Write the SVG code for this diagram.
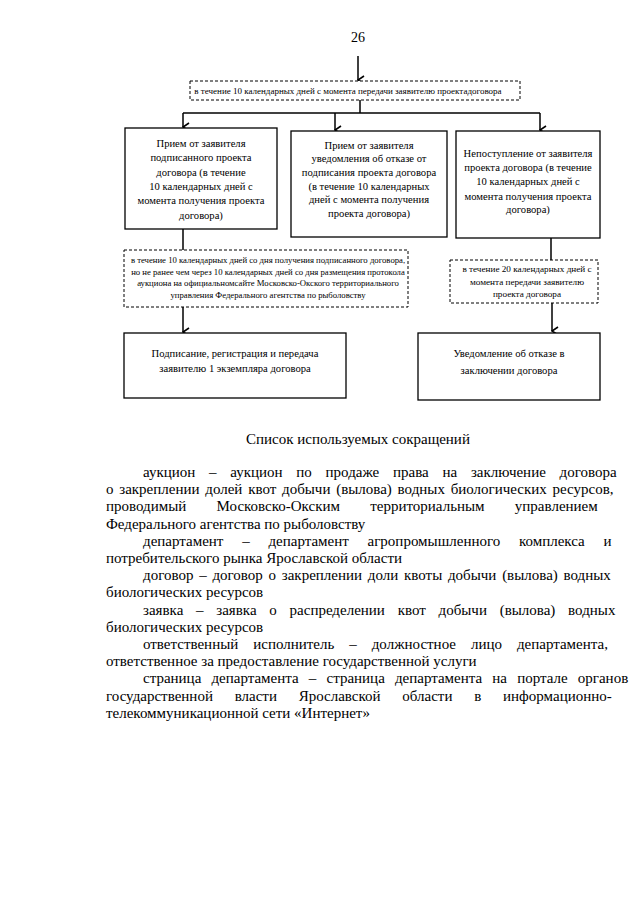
<svg xmlns="http://www.w3.org/2000/svg" width="640" height="905" viewBox="0 0 640 905">
<style>
text{font-family:"Liberation Serif","Times New Roman",serif;fill:#000}
.box{fill:#fff;stroke:#000;stroke-width:1.3}
.dash{fill:#fff;stroke:#000;stroke-width:1;stroke-dasharray:3 2}
.t9{font-size:10.6px;text-anchor:middle}
.t8{font-size:8.7px;text-anchor:middle}
.body{font-size:15px}
.conn{fill:none;stroke:#000;stroke-width:1.5}
</style>
<defs>
<marker id="arr" viewBox="0 0 10 10" refX="5" refY="9" markerWidth="10" markerHeight="10" markerUnits="userSpaceOnUse" orient="auto-start-reverse">
<path d="M1,3 L5,9 L9,3" fill="none" stroke="#000" stroke-width="1.6"/>
</marker>
</defs>
<rect width="640" height="905" fill="#fff"/>
<text x="358" y="42" style="font-size:14px" text-anchor="middle">26</text>

<g id="connectors">
<line class="conn" x1="358" y1="56" x2="358" y2="80" marker-end="url(#arr)"/>
<polyline class="conn" points="360,100 360,113"/>
<line class="conn" x1="183" y1="113" x2="540" y2="113"/>
<line class="conn" x1="183" y1="113" x2="183" y2="127" marker-end="url(#arr)"/>
<line class="conn" x1="335" y1="113" x2="335" y2="130" marker-end="url(#arr)"/>
<line class="conn" x1="540" y1="113" x2="540" y2="130" marker-end="url(#arr)"/>
<line class="conn" x1="183" y1="229" x2="183" y2="250"/>
<line class="conn" x1="183" y1="307" x2="183" y2="332" marker-end="url(#arr)"/>
<line class="conn" x1="551" y1="238" x2="551" y2="260"/>
<line class="conn" x1="552" y1="294" x2="552" y2="331" marker-end="url(#arr)"/>
</g>

<g id="n_top">
<rect class="dash" x="190" y="81" width="330" height="19"/>
<text class="t8" x="348" y="93.5" style="font-size:9px">в течение 10 календарных дней с момента передачи заявителю  проектадоговора</text>
</g>

<g id="n_a">
<rect class="box" x="125" y="128" width="152" height="101"/>
<text class="t9" x="201" y="147">Прием от заявителя</text>
<text class="t9" x="201" y="161.3">подписанного проекта</text>
<text class="t9" x="201" y="175.6">договора (в течение</text>
<text class="t9" x="201" y="189.9">10 календарных дней с</text>
<text class="t9" x="201" y="204.2">момента получения проекта</text>
<text class="t9" x="201" y="218.5">договора)</text>
</g>

<g id="n_b">
<rect class="box" x="291" y="131" width="156" height="106"/>
<text class="t9" x="369" y="148.5">Прием от заявителя</text>
<text class="t9" x="369" y="162.2">уведомления об отказе от</text>
<text class="t9" x="369" y="175.9">подписания проекта договора</text>
<text class="t9" x="369" y="189.6">(в течение 10 календарных</text>
<text class="t9" x="369" y="203.3">дней с момента получения</text>
<text class="t9" x="369" y="217">проекта договора)</text>
</g>

<g id="n_c">
<rect class="box" x="456" y="131" width="144" height="107"/>
<text class="t9" x="528" y="156.5">Непоступление от заявителя</text>
<text class="t9" x="528" y="170.5">проекта договора (в течение</text>
<text class="t9" x="528" y="185">10 календарных дней с</text>
<text class="t9" x="528" y="199.5">момента получения проекта</text>
<text class="t9" x="528" y="213">договора)</text>
</g>

<g id="n_d">
<rect class="dash" x="124" y="250" width="284" height="57"/>
<text class="t8" x="268" y="263">в течение 10 календарных дней со дня получения подписанного договора,</text>
<text class="t8" x="268" y="274.7">но не ранее  чем через 10 календарных дней со дня размещения протокола</text>
<text class="t8" x="268" y="286.4">аукциона на официальномсайте Московско-Окского территориального</text>
<text class="t8" x="268" y="298.1">управления Федерального агентства по рыболовству</text>
</g>

<g id="n_e">
<rect class="dash" x="450" y="260" width="148" height="43"/>
<text class="t8" x="527" y="272" style="font-size:9.2px">в течение 20 календарных дней с</text>
<text class="t8" x="527" y="284.5" style="font-size:9.2px">момента передачи заявителю</text>
<text class="t8" x="527" y="297" style="font-size:9.2px">проекта договора</text>
</g>

<g id="n_f">
<rect class="box" x="124" y="333" width="222" height="65"/>
<text class="t9" x="235" y="357">Подписание, регистрация и передача</text>
<text class="t9" x="235" y="371.5">заявителю  1 экземпляра договора</text>
</g>

<g id="n_g">
<rect class="box" x="418" y="333" width="182" height="67"/>
<text class="t9" x="509" y="357">Уведомление об отказе в</text>
<text class="t9" x="509" y="374">заключении договора</text>
</g>

<g id="abbrev">
<text class="body" x="358" y="444" text-anchor="middle">Список используемых сокращений</text>
<text class="body" x="143" y="477" word-spacing="10">аукцион – аукцион по продаже права на заключение договора</text>
<text class="body" x="106" y="494.2" word-spacing="2">о закреплении долей квот добычи (вылова) водных биологических ресурсов,</text>
<text class="body" x="106" y="511.4" word-spacing="26.5">проводимый Московско-Окским территориальным управлением</text>
<text class="body" x="106" y="528.6">Федерального агентства по рыболовству</text>
<text class="body" x="143" y="545.8" word-spacing="15">департамент – департамент агропромышленного комплекса и</text>
<text class="body" x="106" y="563">потребительского рынка Ярославской области</text>
<text class="body" x="143" y="580.2" word-spacing="2">договор – договор о закреплении доли квоты добычи (вылова) водных</text>
<text class="body" x="106" y="597.4">биологических ресурсов</text>
<text class="body" x="143" y="614.6" word-spacing="9">заявка – заявка о распределении квот добычи (вылова) водных</text>
<text class="body" x="106" y="631.8">биологических ресурсов</text>
<text class="body" x="143" y="649" word-spacing="11.2">ответственный исполнитель – должностное лицо департамента,</text>
<text class="body" x="106" y="666.2">ответственное за предоставление государственной услуги</text>
<text class="body" x="143" y="683.4" word-spacing="6.4">страница департамента – страница департамента на портале органов</text>
<text class="body" x="106" y="700.6" word-spacing="18">государственной власти Ярославской области в информационно-</text>
<text class="body" x="106" y="717.8">телекоммуникационной сети «Интернет»</text>
</g>
</svg>
